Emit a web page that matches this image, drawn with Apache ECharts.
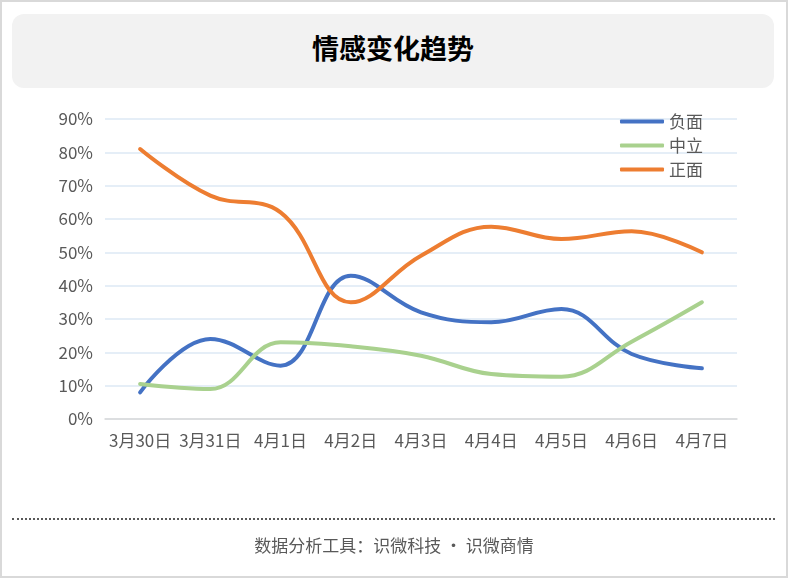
<!doctype html>
<html>
<head>
    <meta charset="utf-8">
    <title>情感变化趋势</title>
    <script src="https://cdn.jsdelivr.net/npm/echarts@6/dist/echarts.min.js"></script>
    <style>
        html, body{
            margin:0;
            padding:0;
            width:788px;
            height:578px;
            background:#fff;
            font-family:"Noto Sans CJK SC", sans-serif;
            overflow:hidden;
        }
        .frame{
            position:absolute;
            left:0; top:0;
            width:784px; height:574px;
            border:2px solid #d9d9d9;
        }
        .head{
            position:absolute;
            left:12px; top:14px;
            width:762px; height:74px;
            background:#f2f2f2;
            border-radius:12px;
            text-align:center;
            line-height:68px;
            font-size:27px;
            font-weight:bold;
            color:#000;
        }
        .foot-line{
            position:absolute;
            left:12px; top:518px;
            width:763px; height:0;
            border-top:2px dotted #595959;
        }
        .foot{
            position:absolute;
            left:0; top:532px;
            width:788px;
            text-align:center;
            font-size:17px;
            color:#595959;
        }
        #chart{
            position:absolute;
            left:0; top:0;
            width:788px; height:578px;
        }
    </style>
</head>
<body>
<div class="frame"></div>
<div class="head">情感变化趋势</div>
<div id="chart"></div>
<div class="foot-line"></div>
<div class="foot">数据分析工具：识微科技 • 识微商情</div>
<script>
    // 日期
    var days = ['3月30日', '3月31日', '4月1日', '4月2日', '4月3日', '4月4日', '4月5日', '4月6日', '4月7日'];
    // 各情感占比 (%)
    var negative = [8, 24, 16, 43, 32, 29, 33, 19.5, 15.2];
    var neutral = [10.5, 9, 23, 21.8, 19, 13.5, 12.7, 23.2, 35];
    var positive = [81, 67, 62, 35, 49, 57.7, 54, 56.3, 50];
    var yTicks = [0, 10, 20, 30, 40, 50, 60, 70, 80, 90];

    var chart = echarts.init(document.getElementById('chart'));

    function line(name, data, color){
        return {
            name: name,
            type: 'line',
            data: data,
            smooth: 0.4,
            symbol: 'none',
            lineStyle: { width: 4, color: color, cap: 'round' },
            itemStyle: { color: color }
        };
    }

    var option = {
        animation: false,
        textStyle: { fontFamily: 'Noto Sans CJK SC' },
        grid: { left: 105, right: 51, top: 119, bottom: 159 },
        legend: {
            orient: 'vertical',
            right: 80,
            top: 108,
            itemGap: 7,
            itemWidth: 44,
            itemHeight: 4,
            icon: 'roundRect',
            textStyle: { color: '#595959', fontSize: 17 },
            data: ['负面', '中立', '正面']
        },
        xAxis: {
            type: 'category',
            data: days,
            boundaryGap: true,
            axisLine: { lineStyle: { color: '#d9d9d9', width: 1.5 } },
            axisTick: { show: false },
            axisLabel: { color: '#595959', fontSize: 17, margin: 13, interval: 0 }
        },
        yAxis: {
            type: 'value',
            min: yTicks[0],
            max: yTicks[yTicks.length - 1],
            interval: 10,
            axisLine: { show: false },
            axisTick: { show: false },
            axisLabel: { color: '#595959', fontSize: 17, margin: 12, formatter: '{value}%' },
            splitLine: { lineStyle: { color: '#dde8f5', width: 1.5 } }
        },
        series: [
            line('负面', negative, '#4472c4'),
            line('中立', neutral, '#a9d18e'),
            line('正面', positive, '#ed7d31')
        ]
    };
    chart.setOption(option);
</script>
</body>
</html>
